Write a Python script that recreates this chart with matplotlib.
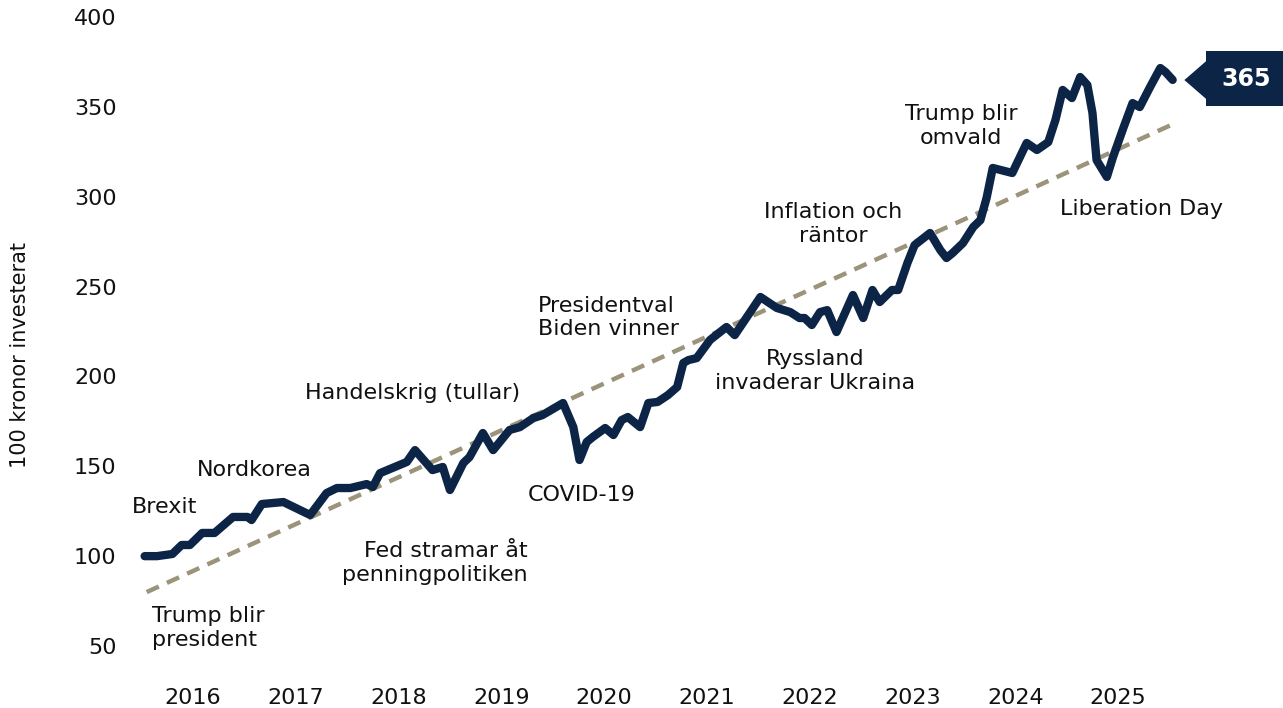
import matplotlib
matplotlib.use("Agg")
import matplotlib.pyplot as plt
import matplotlib.transforms as mtransforms

# fund value (100 kr invested); x in axis-years
dates = [2015.53, 2015.65, 2015.80, 2015.89, 2015.97, 2016.09, 2016.21, 2016.39,
         2016.53, 2016.57, 2016.67, 2016.88, 2017.14, 2017.30, 2017.40, 2017.53,
         2017.69, 2017.75, 2017.82, 2018.08, 2018.16, 2018.33, 2018.43, 2018.50,
         2018.63, 2018.69, 2018.82, 2018.92, 2019.08, 2019.18, 2019.31, 2019.40,
         2019.60, 2019.70, 2019.76, 2019.83, 2019.89, 2020.01, 2020.09, 2020.17,
         2020.23, 2020.35, 2020.43, 2020.52, 2020.62, 2020.71, 2020.77, 2020.82,
         2020.90, 2021.03, 2021.19, 2021.27, 2021.52, 2021.68, 2021.81, 2021.90,
         2021.95, 2022.02, 2022.10, 2022.17, 2022.26, 2022.42, 2022.52, 2022.61,
         2022.68, 2022.80, 2022.86, 2022.95, 2023.02, 2023.17, 2023.27, 2023.33,
         2023.39, 2023.49, 2023.59, 2023.66, 2023.72, 2023.78, 2023.97, 2024.11,
         2024.21, 2024.32, 2024.39, 2024.46, 2024.55, 2024.63, 2024.70, 2024.75,
         2024.77, 2024.79, 2024.89, 2024.95, 2025.05, 2025.14, 2025.21, 2025.31,
         2025.41, 2025.46, 2025.53]
values = [100.0, 100.0, 101.2, 106.2, 106.2, 112.9, 112.9, 121.8,
          121.8, 120.1, 129.0, 130.1, 122.9, 135.1, 137.9, 137.9,
          140.1, 138.5, 146.2, 152.4, 159.0, 147.9, 149.6, 136.8,
          151.8, 155.1, 168.5, 159.0, 170.2, 171.8, 176.8, 178.5,
          185.2, 171.8, 153.5, 163.5, 166.3, 171.3, 167.4, 175.7,
          177.4, 171.8, 185.2, 185.8, 189.6, 194.1, 207.5, 209.1,
          210.2, 220.3, 227.5, 223.0, 244.2, 238.1, 235.8, 232.5,
          232.5, 228.6, 235.8, 236.9, 224.7, 245.3, 232.5, 248.1,
          241.4, 248.1, 248.1, 263.1, 273.1, 279.8, 270.3, 265.9,
          268.7, 274.2, 283.1, 287.0, 299.3, 316.0, 313.2, 329.9,
          326.0, 330.4, 342.7, 359.4, 354.9, 366.6, 362.2, 346.6,
          333.2, 320.4, 311.0, 322.1, 338.2, 352.1, 349.9, 361.0,
          371.6, 369.4, 365.0]

trend_dates = [2015.55, 2025.58]
trend_values = [80, 341.6]

year_ticks = list(range(2016, 2026))
y_ticks = [50, 100, 150, 200, 250, 300, 350, 400]
last_label = "365"

# event labels: (text, x, y, ha)
events = [
    ("Brexit", 2015.41, 127.3, "left"),
    ("Nordkorea", 2016.60, 147.9, "center"),
    ("Trump blir\npresident", 2015.60, 60.0, "left"),
    ("Handelskrig (tullar)", 2018.14, 190.8, "center"),
    ("Fed stramar åt\npenningpolitiken", 2019.26, 96.2, "right"),
    ("COVID-19", 2019.78, 134.0, "center"),
    ("Presidentval\nBiden vinner", 2019.36, 233.0, "left"),
    ("Ryssland\ninvaderar Ukraina", 2022.05, 203.0, "center"),
    ("Inflation och\nräntor", 2022.23, 284.8, "center"),
    ("Trump blir\nomvald", 2023.47, 339.3, "center"),
    ("Liberation Day", 2025.23, 293.2, "center"),
]

navy = "#0c2546"
tan = "#9c937b"

plt.rcParams["font.family"] = ["DejaVu Sans"]

fig = plt.figure(figsize=(12.83, 7.08), dpi=100)
ax = fig.add_axes([125 / 1283, 1 - 646 / 708, 1075 / 1283, 629 / 708])

ax.plot(trend_dates, trend_values, color=tan, lw=3.2, dashes=(3, 2),
        solid_capstyle="butt", zorder=2)
ax.plot(dates, values, color=navy, lw=6, solid_joinstyle="round",
        solid_capstyle="round", zorder=3)

for txt, x, y, ha in events:
    ax.text(x, y, txt, ha=ha, va="center", multialignment=ha,
            fontsize=16, color="#111111")

# end-value callout
tri = mtransforms.offset_copy(ax.transData, fig=fig, x=17, y=0, units="points")
ax.plot([dates[-1]], [values[-1]], transform=tri, marker=[(-0.575, 0), (0.575, 1), (0.575, -1)],
        markersize=29, color=navy, clip_on=False, ls="none")
ax.annotate(last_label, xy=(dates[-1], values[-1]), xytext=(53, 1),
            textcoords="offset points", ha="center", va="center",
            fontsize=17, fontweight="bold", color="white",
            bbox=dict(boxstyle="square,pad=0.64", fc=navy, ec="none"),
            annotation_clip=False)

ax.set_xlim(2015.339, 2025.796)
ax.set_ylim(50, 400)
ax.set_xticks(year_ticks)
ax.set_xticklabels([str(y) for y in year_ticks])
ax.set_yticks(y_ticks)
ax.tick_params(axis="x", length=0, pad=30, labelsize=16, labelcolor="#111111")
ax.tick_params(axis="y", length=0, pad=6, labelsize=16, labelcolor="#111111")
for s in ax.spines.values():
    s.set_visible(False)

ax.set_ylabel("100 kronor investerat", fontsize=15, color="#111111")
ax.yaxis.set_label_coords(-0.088, 0.463)

fig.savefig("out.png", dpi=100)
